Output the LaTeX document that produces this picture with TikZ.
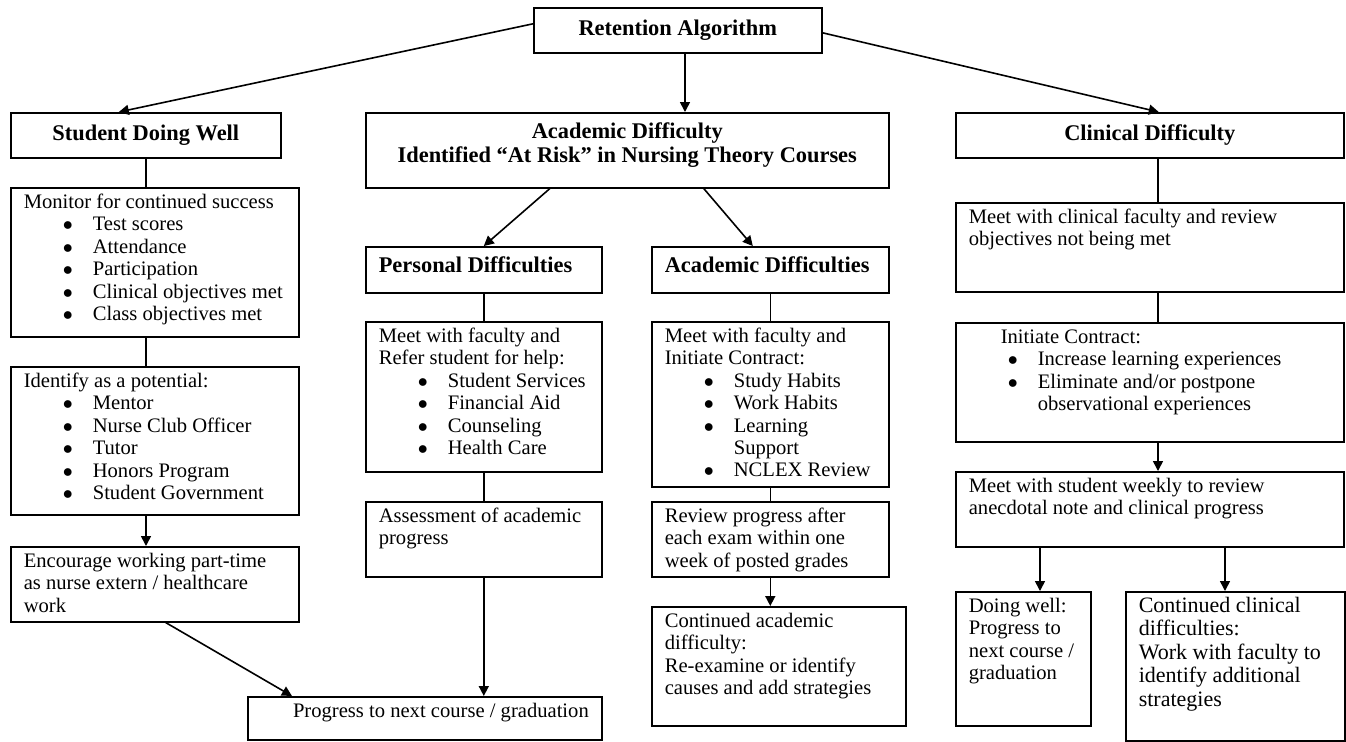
\documentclass[tikz,border=0pt]{standalone}
\usepackage{fontspec}
\setmainfont{Liberation Serif}
\usetikzlibrary{arrows.meta}
\newcommand{\bodyfont}{\fontsize{10.3}{11.2}\selectfont}
\newcommand{\headfont}{\bfseries\fontsize{11.2}{11.2}\selectfont}
\newcommand{\itm}{\par\hangindent=34.5pt\hangafter=1\noindent\hspace*{19.5pt}\makebox[15pt][l]{$\bullet$}}
\begin{document}
\begin{tikzpicture}[x=0.5pt, y=-0.5pt, line width=0.8pt, arr/.style={-{Triangle[length=5pt,width=5pt]}}, head/.style={draw, anchor=north west, inner sep=0pt, font=\headfont}, box/.style 2 args={draw, anchor=north west, inner xsep=6.5pt, inner ysep=2.5pt, execute at begin node={\begin{minipage}[c][#2][t]{#1}\bodyfont\strut}, execute at end node={\end{minipage}}}]
\useasboundingbox (0,0) rectangle (1346,741);
\node[head, minimum width=144pt, minimum height=22.5pt] (1) at (533,7) {Retention Algorithm};
\node[head, minimum width=135pt, minimum height=22.5pt] (2) at (10,112) {Student Doing Well};
\node[box={248.5pt}{32.5pt}] (3) at (365,112) {\headfont\rule{0pt}{10.25pt}\makebox[\linewidth]{Academic Difficulty}\\\makebox[\linewidth]{Identified “At Risk” in Nursing Theory Courses}};
\node[head, minimum width=194pt, minimum height=22.5pt] (4) at (955,112) {Clinical Difficulty};
\node[box={131pt}{69.5pt}] (5) at (10,187) {Monitor for continued success\itm Test scores\itm Attendance\itm Participation\itm Clinical objectives met\itm Class objectives met};
\node[box={131pt}{69pt}] (6) at (10,366) {Identify as a potential:\itm Mentor\itm Nurse Club Officer\itm Tutor\itm Honors Program\itm Student Government};
\node[box={131pt}{32.5pt}] (7) at (10,546) {Encourage working part-time\\as nurse extern / healthcare\\work};
\node[box={105pt}{18pt}] (8) at (365,246) {\headfont\rule{0pt}{10.5pt}Personal Difficulties};
\node[box={105pt}{70pt}] (9) at (365,321) {Meet with faculty and\\Refer student for help:\itm Student Services\itm Financial Aid\itm Counseling\itm Health Care};
\node[box={105pt}{32.5pt}] (10) at (365,501) {Assessment of academic\\progress};
\node[box={105.5pt}{18pt}] (11) at (651,246) {\headfont\rule{0pt}{10.5pt}Academic Difficulties};
\node[box={105.5pt}{77.5pt}] (12) at (651,321) {Meet with faculty and\\Initiate Contract:\itm Study Habits\itm Work Habits\itm Learning\\Support\itm NCLEX Review};
\node[box={105.5pt}{32.5pt}] (13) at (651,501) {Review progress after\\each exam within one\\week of posted grades};
\node[box={114pt}{54.5pt}] (14) at (651,606) {Continued academic\\difficulty:\\Re-examine or identify\\causes and add strategies};
\node[box={164pt}{16.5pt}] (15) at (247,696) {\hfill Progress to next course / graduation};
\node[box={181pt}{39.5pt}] (16) at (955,202) {Meet with clinical faculty and review\\objectives not being met};
\node[box={181pt}{54.5pt}] (17) at (955,322) {\hspace*{16pt}Initiate Contract:\itm Increase learning experiences\itm Eliminate and/or postpone\\observational experiences\par};
\node[box={181pt}{32.5pt}] (18) at (955,471) {Meet with student weekly to review\\anecdotal note and clinical progress};
\node[box={54.5pt}{62pt}] (19) at (955,591) {Doing well:\\Progress to\\next course /\\graduation};
\node[box={96.5pt}{69.5pt}] (20) at (1125,591) {\fontsize{11}{11.7}\selectfont Continued clinical\\difficulties:\\Work with faculty to\\identify additional\\strategies\par};
\coordinate (l) at (146,0);
\coordinate (a) at (685,0);
\coordinate (c) at (1158,0);
\coordinate (d) at (1040,0);
\coordinate (e) at (1225,0);
\draw[arr] ([shift={(0,-6.5)}]1.west) -- ([shift={(-27,0)}]2.north);
\draw[arr] (a |- 1.south) -- (a |- 3.north);
\draw[arr] ([shift={(0,2.5)}]1.east) -- ([shift={(9,0)}]4.north);
\draw (l |- 2.south) -- (l |- 5.north);
\draw (l |- 5.south) -- (l |- 6.north);
\draw[arr] (l |- 6.south) -- (l |- 7.north);
\draw[arr] ([shift={(11,0)}]7.south) -- ([shift={(45,0)}]15.north west);
\draw[arr] ([shift={(-77.5,0)}]3.south) -- (8.north);
\draw[arr] ([shift={(76.5,0)}]3.south) -- ([shift={(-17.5,0)}]11.north);
\draw (8) -- (9);
\draw (9) -- (10);
\draw[arr] (10) -- (10 |- 15.north);
\draw (11) -- (12);
\draw (12) -- (13);
\draw[arr] (13) -- (13 |- 14.north);
\draw (c |- 4.south) -- (c |- 16.north);
\draw (c |- 16.south) -- (c |- 17.north);
\draw[arr] (c |- 17.south) -- (c |- 18.north);
\draw[arr] (d |- 18.south) -- (d |- 19.north);
\draw[arr] (e |- 18.south) -- (e |- 20.north);
\end{tikzpicture}
\end{document}
